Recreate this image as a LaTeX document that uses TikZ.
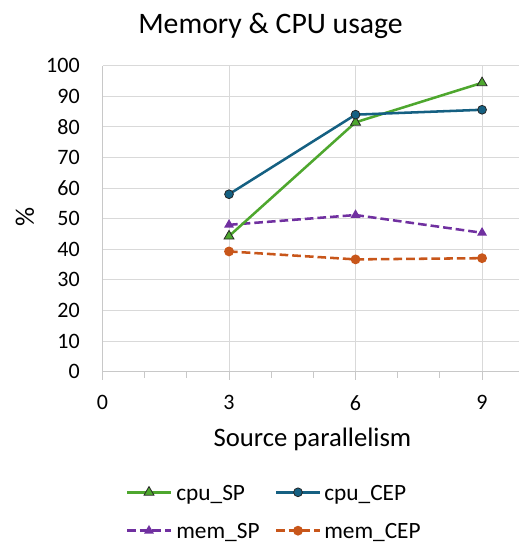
\documentclass[tikz,border=0pt]{standalone}
\usepackage{fontspec}
\setmainfont{Carlito}
\usepackage{tikz}
\usetikzlibrary{shapes.geometric, positioning, calc}
\definecolor{cpusp}{HTML}{4EA72E}
\definecolor{cpucep}{HTML}{156082}
\definecolor{memsp}{HTML}{7030A0}
\definecolor{memcep}{HTML}{C8561A}
\definecolor{gridc}{HTML}{D9D9D9}
\definecolor{axisc}{HTML}{C8C8C8}

\begin{document}
\begin{tikzpicture}[
  x=0.75pt, y=0.75pt,
  gridline/.style={draw=gridc, line width=0.75pt},
  axisline/.style={draw=axisc, line width=0.75pt},
  ticklbl/.style={inner sep=0pt, font=\fontsize{16.5}{19}\selectfont},
  axtitle/.style={inner sep=0pt, font=\fontsize{20}{24}\selectfont},
  legtext/.style={inner sep=0pt, anchor=base west, font=\fontsize{17.5}{21}\selectfont},
  series/.style={line width=1.9pt, line join=round},
  dashser/.style={series, dash pattern=on 6.5pt off 3pt},
  tri/.style={regular polygon, regular polygon sides=3, minimum size=8.6pt, inner sep=0pt},
  dot/.style={circle, minimum size=6.6pt, inner sep=0pt},
  cpuspmark/.style={tri, fill=cpusp, draw=black!85, line width=0.6pt},
  cpucepmark/.style={dot, fill=cpucep, draw=black!85, line width=0.6pt},
  memspmark/.style={tri, fill=memsp},
  memcepmark/.style={dot, fill=memcep, minimum size=7.4pt},
]

\useasboundingbox (0,0) rectangle (519,544);

% title and axis titles
\node[inner sep=0pt, anchor=base, font=\fontsize{22.3}{26}\selectfont] (title) at (270.5,510.5) {Memory \& CPU usage};
\node[axtitle, anchor=base] (xtitle) at (312.5,98) {Source parallelism};
\node[axtitle, rotate=90] (ytitle) at (25,327.5) {\%};

% plot area
\begin{scope}[shift={(76.875pt,129.225pt)}, x=31.63pt, y=2.295pt]
  \foreach \v in {10,20,...,100}
    \draw[gridline] (0,\v) -- (9.87,\v);
  \foreach \t in {3,6,9}
    \draw[gridline] (\t,0) -- (\t,100);
  \draw[axisline] (0,0) -- (0,100);
  \draw[axisline] (0,0) -- (9.87,0);
  \foreach \t in {1,2,4,5,7,8}
    \draw[axisline] (\t,0) -- ++(0,-5pt);
  \foreach \t in {0,3,6,9}
    \draw[axisline] (\t,0) -- ++(0,-6pt);

  \foreach \v in {0,10,...,100}
    \node[ticklbl, anchor=east] (y\v) at ([xshift=-16.9pt]0,\v) {\v};
  \foreach \t in {0,3,6,9}
    \node[ticklbl, anchor=north] (x\t) at ([yshift=-17.5pt]\t,0) {\t};

  % data points
  \coordinate (sp3) at (3,44.3);
  \coordinate (sp6) at (6,81.5);
  \coordinate (sp9) at (9,94.4);
  \coordinate (cep3) at (3,58.0);
  \coordinate (cep6) at (6,84.0);
  \coordinate (cep9) at (9,85.6);
  \coordinate (msp3) at (3,48.0);
  \coordinate (msp6) at (6,51.2);
  \coordinate (msp9) at (9,45.4);
  \coordinate (mcep3) at (3,39.3);
  \coordinate (mcep6) at (6,36.7);
  \coordinate (mcep9) at (9,37.1);

  \draw[dashser, memcep] (mcep3) -- (mcep6) -- (mcep9);
  \draw[dashser, memsp] (msp3) -- (msp6) -- (msp9);
  \draw[series, cpusp] (sp3) -- (sp6) -- (sp9);
  \draw[series, cpucep] (cep3) -- (cep6) -- (cep9);

  \foreach \t in {3,6,9} {
    \node[memcepmark] at (mcep\t) {};
    \node[memspmark] at (msp\t) {};
    \node[cpuspmark] at (sp\t) {};
    \node[cpucepmark] at (cep\t) {};
  }
\end{scope}

% legend
\coordinate (l1a) at (127,51.7);  \coordinate (l1b) at (171,51.7);
\coordinate (l2a) at (276,51.7);  \coordinate (l2b) at (320,51.7);
\coordinate (l3a) at (127,13.3);  \coordinate (l3b) at (171,13.3);
\coordinate (l4a) at (276,13.3);  \coordinate (l4b) at (320,13.3);
\draw[series, cpusp] (l1a) -- (l1b);
\draw[series, cpucep] (l2a) -- (l2b);
\draw[dashser, memsp] (l3a) -- (l3b);
\draw[dashser, memcep] (l4a) -- (l4b);
\node[cpuspmark] at ($(l1a)!0.5!(l1b)$) {};
\node[cpucepmark] at ($(l2a)!0.5!(l2b)$) {};
\node[memspmark] at ($(l3a)!0.5!(l3b)$) {};
\node[memcepmark] at ($(l4a)!0.5!(l4b)$) {};
\node[legtext] (leg1) at (176,44) {cpu\_SP};
\node[legtext] (leg2) at (324,44) {cpu\_CEP};
\node[legtext] (leg3) at (176,6) {mem\_SP};
\node[legtext] (leg4) at (324,6) {mem\_CEP};

\end{tikzpicture}
\end{document}
